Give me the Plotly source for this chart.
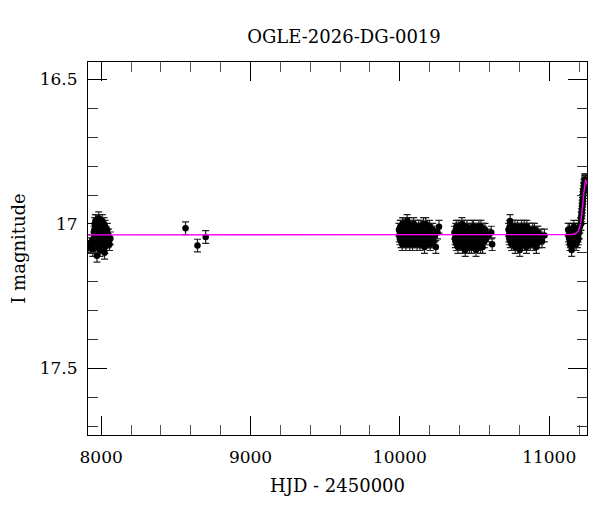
import plotly.graph_objects as go

# ---- data ----
hjd_s1 = [7918, 7925, 7931, 7938, 7944, 7950, 7953, 7957, 7960, 7963, 7966, 7969, 7972, 7975, 7978,
          7981, 7984, 7987, 7990, 7993, 7996, 7999, 8002, 8005, 8008, 8011, 8014, 8017, 8020, 8023,
          8026, 8029, 8032, 8035, 8038, 8041, 8045, 8050, 8056, 8062,
          7955, 7959, 7962, 7965, 7968, 7971, 7974, 7977, 7980, 7983, 7986, 7989, 7992, 7995, 7998,
          8001, 8004, 8007, 8010, 8013, 8016, 8019, 8022, 8025, 8028, 8031, 8034]
mag_s1 = [17.08, 17.07, 17.08, 17.06, 17.09, 17.05, 17.03, 17.00, 17.02, 17.06, 16.99, 17.04, 17.11, 17.01, 17.03,
          17.07, 16.98, 17.05, 17.02, 17.09, 17.00, 17.04, 17.06, 17.03, 16.99, 17.05, 17.08, 17.02, 17.04, 17.10,
          17.01, 17.06, 17.03, 17.07, 17.05, 17.02, 17.06, 17.04, 17.07, 17.05,
          17.02, 17.05, 16.99, 17.03, 17.07, 17.01, 17.05, 17.02, 17.08, 17.04, 17.00, 17.06, 17.03, 17.05, 17.01,
          17.07, 17.03, 17.05, 17.02, 17.06, 17.04, 17.00, 17.05, 17.08, 17.03, 17.06, 17.04]

hjd_iso = [8565, 8645, 8700]
mag_iso = [17.015, 17.075, 17.045]

hjd_s2 = [9994, 10000, 10005, 10011, 10016, 10022, 10027, 10033, 10038, 10044, 10049, 10055, 10060, 10066,
          10071, 10077, 10082, 10088, 10093, 10099, 10104, 10110, 10115, 10121, 10126, 10132, 10137, 10143,
          10148, 10154, 10159, 10165, 10170, 10176, 10181, 10187, 10192, 10198, 10203, 10209, 10214, 10220,
          10226, 10233, 10241, 10252, 10262,
          9997, 10003, 10008, 10014, 10019, 10025, 10030, 10036, 10041, 10047, 10052, 10058, 10063, 10069,
          10074, 10080, 10085, 10091, 10096, 10102, 10107, 10113, 10118, 10124, 10129, 10135, 10140, 10146,
          10151, 10157, 10162, 10168, 10173, 10179, 10184, 10190, 10195, 10201, 10206, 10212]
mag_s2 = [17.02, 17.05, 17.01, 17.04, 17.07, 17.00, 17.03, 17.06, 17.02, 17.04, 16.99, 17.05, 17.03, 17.07,
          17.01, 17.04, 17.02, 17.06, 17.00, 17.03, 17.05, 17.02, 17.07, 17.04, 17.01, 17.05, 17.03, 17.06,
          17.02, 17.04, 17.00, 17.08, 17.03, 17.05, 17.02, 17.06, 17.04, 17.01, 17.07, 17.03, 17.05, 17.02,
          17.06, 17.04, 17.08, 17.03, 17.01,
          17.04, 17.01, 17.06, 17.03, 17.00, 17.05, 17.02, 17.04, 17.07, 17.01, 17.03, 17.06, 17.00, 17.04,
          17.05, 17.02, 17.07, 17.03, 17.05, 17.01, 17.04, 17.06, 17.02, 17.05, 17.03, 17.07, 17.01, 17.04,
          17.06, 17.02, 17.05, 17.03, 17.00, 17.04, 17.06, 17.02, 17.05, 17.03, 17.04, 17.06]

hjd_s3 = [10366, 10372, 10378, 10383, 10389, 10394, 10400, 10405, 10411, 10416, 10422, 10427, 10433, 10438,
          10444, 10449, 10455, 10460, 10466, 10471, 10477, 10482, 10488, 10493, 10499, 10504, 10510, 10515,
          10521, 10526, 10532, 10537, 10543, 10548, 10554, 10559, 10565, 10570, 10578, 10590, 10612, 10618,
          10369, 10375, 10380, 10386, 10391, 10397, 10402, 10408, 10413, 10419, 10424, 10430, 10435, 10441,
          10446, 10452, 10457, 10463, 10468, 10474, 10479, 10485, 10490, 10496, 10501, 10507, 10512, 10518,
          10523, 10529, 10534, 10540, 10545, 10551, 10556, 10562]
mag_s3 = [17.03, 17.06, 17.01, 17.04, 17.08, 17.02, 17.05, 17.03, 17.07, 17.00, 17.04, 17.06, 17.02, 17.09,
          17.04, 17.01, 17.06, 17.03, 17.08, 17.05, 17.02, 17.07, 17.04, 17.01, 17.06, 17.03, 17.09, 17.05,
          17.02, 17.07, 17.04, 17.06, 17.01, 17.05, 17.08, 17.03, 17.06, 17.02, 17.05, 17.04, 17.03, 17.07,
          17.05, 17.02, 17.07, 17.04, 17.01, 17.06, 17.03, 17.05, 17.02, 17.08, 17.04, 17.01, 17.06, 17.03,
          17.05, 17.07, 17.02, 17.04, 17.06, 17.03, 17.08, 17.01, 17.05, 17.03, 17.07, 17.04, 17.02, 17.06,
          17.04, 17.01, 17.05, 17.08, 17.03, 17.06, 17.02, 17.04]

hjd_s4 = [10728, 10733, 10738, 10743, 10748, 10753, 10758, 10763, 10768, 10773, 10778, 10783, 10788, 10793,
          10798, 10803, 10808, 10813, 10818, 10823, 10828, 10833, 10838, 10843, 10848, 10853, 10858, 10863,
          10868, 10873, 10878, 10884, 10890, 10897, 10905, 10914, 10925, 10938, 10952, 10968,
          10730, 10735, 10740, 10745, 10750, 10755, 10760, 10765, 10770, 10775, 10780, 10785, 10790, 10795,
          10800, 10805, 10810, 10815, 10820, 10825, 10830, 10835, 10840, 10845, 10850, 10855, 10860, 10865,
          10870, 10875, 10881, 10887, 10894, 10901, 10910, 10920, 10932, 10945]
mag_s4 = [17.02, 17.05, 16.99, 17.03, 17.07, 17.01, 17.04, 17.06, 17.02, 17.08, 17.03, 17.05, 17.01, 17.06,
          17.04, 17.09, 17.02, 17.05, 17.03, 17.07, 17.04, 17.01, 17.06, 17.03, 17.08, 17.05, 17.02, 17.06,
          17.04, 17.07, 17.03, 17.05, 17.02, 17.06, 17.04, 17.08, 17.03, 17.05, 17.06, 17.04,
          17.04, 17.01, 17.06, 17.03, 17.05, 17.02, 17.07, 17.04, 17.01, 17.05, 17.03, 17.06, 17.02, 17.04,
          17.07, 17.03, 17.05, 17.01, 17.06, 17.04, 17.02, 17.07, 17.05, 17.03, 17.01, 17.06, 17.04, 17.02,
          17.05, 17.03, 17.06, 17.04, 17.07, 17.02, 17.05, 17.03, 17.06, 17.04]

hjd_s5 = [11127, 11133, 11139, 11144, 11150, 11155, 11160, 11165, 11170, 11175, 11180, 11185, 11190, 11195,
          11200, 11205, 11210, 11214, 11218, 11221, 11224, 11227, 11230, 11233, 11236, 11239, 11242, 11245,
          11130, 11136, 11142, 11147, 11152, 11158, 11163, 11168, 11173, 11178, 11183, 11188, 11193, 11198,
          11212, 11216, 11220, 11223, 11226, 11229, 11232, 11235, 11238, 11241, 11244]
mag_s5 = [17.02, 17.05, 17.07, 17.03, 17.09, 17.04, 17.06, 17.01, 17.05, 17.03, 17.07, 17.04, 17.02, 17.05,
          17.03, 17.01, 17.00, 16.98, 16.96, 16.94, 16.92, 16.90, 16.88, 16.87, 16.86, 16.85, 16.85, 16.86,
          17.04, 17.02, 17.06, 17.05, 17.03, 17.07, 17.04, 17.06, 17.02, 17.05, 17.03, 17.06, 17.04, 17.03,
          17.00, 16.97, 16.95, 16.93, 16.91, 16.89, 16.88, 16.865, 16.855, 16.85, 16.855]

mag_err = 0.022

model_hjd = [7910, 11150, 11170, 11185, 11195, 11202, 11208, 11213, 11218, 11222, 11226, 11230,
             11234, 11237, 11240, 11243, 11246, 11250, 11255]
model_mag = [17.038, 17.037, 17.034, 17.03, 17.024, 17.016, 17.004, 16.99, 16.97, 16.95, 16.925, 16.9,
             16.875, 16.862, 16.853, 16.849, 16.85, 16.856, 16.866]

title_text = "OGLE-2026-DG-0019"
x_title = "HJD - 2450000"
y_title = "I magnitude"
x_tickvals = [8000, 9000, 10000, 11000]
x_ticktext = ["8000", "9000", "10000", "11000"]
y_tickvals = [16.5, 17, 17.5]
y_ticktext = ["16.5", "17", "17.5"]

# ---- figure ----
FONT = "DejaVu Serif"
fig = go.Figure()

all_hjd = hjd_s1 + hjd_iso + hjd_s2 + hjd_s3 + hjd_s4 + hjd_s5
all_mag = mag_s1 + mag_iso + mag_s2 + mag_s3 + mag_s4 + mag_s5

fig.add_trace(go.Scatter(
    x=all_hjd, y=all_mag, mode="markers",
    marker=dict(color="black", size=6.5),
    error_y=dict(type="constant", value=mag_err, color="#222222", thickness=1.2, width=3.5),
    showlegend=False,
))
fig.add_trace(go.Scatter(
    x=model_hjd, y=model_mag, mode="lines", line=dict(color="#ff00ff", width=1.4),
    showlegend=False,
))

axis_common = dict(
    showline=True, linecolor="black", linewidth=1, mirror="allticks",
    ticks="inside", ticklen=19, tickcolor="black", tickwidth=1,
    showgrid=False, zeroline=False, automargin=False,
    tickfont=dict(family=FONT, size=17, color="black"),
)

fig.update_layout(
    width=600, height=512,
    paper_bgcolor="white", plot_bgcolor="white",
    margin=dict(l=80, r=21, t=54, b=85),
    title=dict(text=title_text, x=0.56, xref="container", y=0.943, yref="container",
               xanchor="center", yanchor="middle",
               font=dict(family=FONT, size=18, color="black")),
    xaxis=dict(range=[7912, 11253], tickvals=x_tickvals, ticktext=x_ticktext,
               ticklabelstandoff=7,
               minor=dict(ticks="inside", dtick=200, tick0=8000, ticklen=10, tickcolor="#555555"),
               title=dict(text=x_title, font=dict(family=FONT, size=18, color="black"), standoff=12),
               **axis_common),
    yaxis=dict(range=[17.73, 16.44], tickvals=y_tickvals, ticktext=y_ticktext,
               ticklabelstandoff=6,
               minor=dict(ticks="inside", dtick=0.1, tick0=16.5, ticklen=10, tickcolor="#333333"),
               title=dict(text=y_title, font=dict(family=FONT, size=18, color="black"), standoff=10),
               **axis_common),
)

fig.write_html("out.html")
